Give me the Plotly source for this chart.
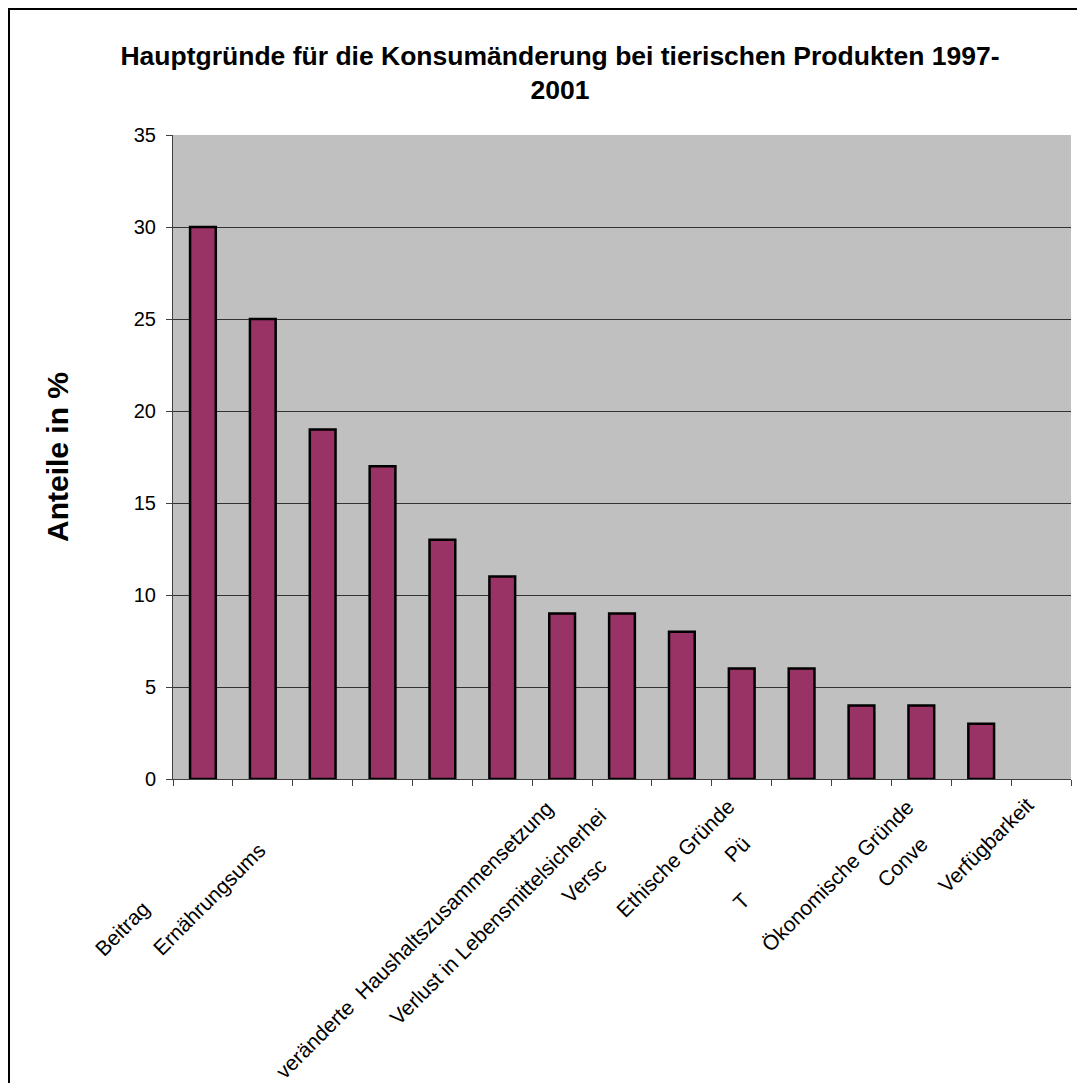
import plotly.graph_objects as go

# Anteile in % je Grund (letzte Kategorie ohne Wert)
values = [30, 25, 19, 17, 13, 11, 9, 9, 8, 6, 6, 4, 4, 3, None]
positions = list(range(len(values)))

# sichtbare (teils abgeschnittene) Achsenbeschriftungen je Kategorie
label_text = ["Beitrag", "Ernährungsums", "", "", "",
              "veränderte  Haushaltszusammensetzung",
              "Verlust in Lebensmittelsicherhei", "Versc", "Ethische Gründe",
              "Pü", "T", "Ökonomische Gründe", "Conve", "Verfügbarkeit", ""]

title = "Hauptgründe für die Konsumänderung bei tierischen Produkten 1997-<br>2001"
y_title = "Anteile in %"
y_ticks = [0, 5, 10, 15, 20, 25, 30, 35]

# pixel offsets of each label end from (category centre, x-axis line)
label_offsets = [(-46, 115), (9, 57), (0, 0), (0, 0), (0, 0), (58, 14), (51, 22),
                 (-8, 72), (59, 13), (15, 50), (-45, 107), (59, 13), (14, 50),
                 (60, 11), (0, 0)]

# page has an 8px body margin, so the figure is 16px smaller than the window
W, H = 1069, 1075
L, R, T, B = 165, 6, 127, 304
FONT = "Liberation Sans, Arial, sans-serif"

fig = go.Figure()
fig.add_trace(go.Bar(
    x=positions,
    y=values,
    width=0.43,
    marker=dict(color="#993366", line=dict(color="black", width=2.5)),
))

for i, txt in enumerate(label_text):
    if not txt:
        continue
    dx, dy = label_offsets[i]
    fig.add_annotation(
        x=positions[i], y=0, xref="x", yref="y",
        text=txt, showarrow=False, textangle=-45,
        xanchor="right", yanchor="top",
        xshift=dx, yshift=-dy,
        font=dict(family=FONT, size=21, color="black"),
    )

# outer chart border (right and bottom edges lie outside the picture)
pw, ph = W - L - R, H - T - B
fig.add_shape(
    type="rect", xref="paper", yref="paper",
    x0=(1 - L) / pw, x1=(W + 20 - L) / pw,
    y0=-(B + 20) / ph, y1=(T - 1) / ph + 1,
    line=dict(color="black", width=2),
)

fig.update_layout(
    width=W, height=H,
    margin=dict(l=L, r=R, t=T, b=B),
    paper_bgcolor="white",
    plot_bgcolor="#C0C0C0",
    showlegend=False,
    font=dict(family=FONT, color="black"),
    title=dict(
        text=title,
        x=552 / W, xanchor="center",
        y=1 - 57 / H, yanchor="top", yref="container",
        font=dict(family=FONT, size=26.5, color="black", weight="bold"),
    ),
    xaxis=dict(
        range=[-0.5, len(values) - 0.5],
        tick0=-0.5, dtick=1,
        showticklabels=False,
        ticks="outside", ticklen=6, tickcolor="#404040",
        showline=True, linecolor="#404040", linewidth=1,
        showgrid=False, zeroline=False,
    ),
    yaxis=dict(
        range=[0, 35],
        tickvals=y_ticks,
        ticks="outside", ticklen=6, tickcolor="#404040",
        tickfont=dict(family=FONT, size=20, color="black"),
        ticklabelstandoff=6,
        showline=True, linecolor="#404040", linewidth=1,
        showgrid=True, gridcolor="#333333", gridwidth=1,
        zeroline=False,
        title=dict(text=y_title, standoff=56,
                   font=dict(family=FONT, size=30, color="black", weight="bold")),
    ),
)

fig.write_html("out.html")
